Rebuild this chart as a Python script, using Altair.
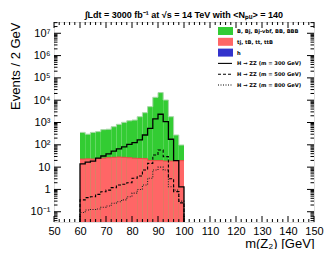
import altair as alt
import pandas as pd

# ---- data ----
bin_lo = list(range(60, 100, 2))
bin_w = 2
# stacked total (green top): B, Bj, Bj-vbf, BB, BBB on top of tj...
total_bkg = [360, 300, 360, 390, 480, 500, 650, 830, 1020, 1200,
             1290, 1820, 2750, 5130, 13500, 21900, 10200, 1820, 275, 98]
# tj, tB, tt, ttB (red)
top_bkg = [22.9, 23.4, 22.9, 24.0, 25.1, 26.3, 27.5, 28.2, 27.5, 26.3,
           25.1, 24.5, 24.0, 20.0, 19.5, 19.5, 18.6, 18.6, 19.5, 19.5]
# h (blue) - below the visible range
h_bkg = [0.01] * 20
# signals
sig300 = [14.1, 16.6, 18.6, 25.1, 31.6, 38.9, 52.5, 66.1, 81.3, 105,
          126, 166, 275, 550, 1450, 2340, 1100, 178, 19.5, 1.3]
sig500 = [0.34, 0.43, 0.47, 0.60, 0.79, 0.93, 1.20, 1.58, 1.70, 2.0,
          3.16, 3.98, 7.41, 14.8, 34.7, 58.9, 29.5, 3.0, 0.8, 0.25]
sig800 = [0.093, 0.12, 0.126, 0.132, 0.158, 0.182, 0.24, 0.28, 0.34, 0.47,
          0.68, 1.0, 1.58, 3.16, 7.4, 10.0, 7.4, 1.32, 0.93, 0.3]

x_ticks = list(range(50, 151, 10))
y_ticks = [0.1, 1, 10, 100, 1e3, 1e4, 1e5, 1e6, 1e7]
y_labels = ["10⁻¹", "1", "10", "10²", "10³", "10⁴", "10⁵", "10⁶", "10⁷"]

legend_labels = ["B, Bj, Bj-vbf, BB, BBB", "tj, tB, tt, ttB", "h",
                 "H → ZZ (m = 300 GeV)", "H → ZZ (m = 500 GeV)", "H → ZZ (m = 800 GeV)"]

YMIN, YMAX = 0.0347, 3.2e7
W, H = 260, 200
FONT = "Liberation Sans"
GREEN, RED, BLUE = "#33cc33", "#ff6666", "#3333cc"

xs = alt.Scale(domain=[50, 150], nice=False, zero=False)
ys = alt.Scale(type="log", domain=[YMIN, YMAX], nice=False)

hist = pd.DataFrame({"lo": bin_lo, "hi": [b + bin_w for b in bin_lo],
                     "total": total_bkg, "top": top_bkg, "h": h_bkg})

label_expr = " : ".join(
    f"datum.value == {v} ? '{l}'" for v, l in zip(y_ticks, y_labels)) + " : ''"

x_axis = alt.Axis(values=x_ticks, format="d", ticks=False, domain=False, grid=False,
                  labelFont=FONT, labelFontSize=11, labelColor="black", labelPadding=3,
                  labelFlush=False, labelOverlap=False, labelBound=False,
                  title="m(Z₂) [GeV]", titleFont=FONT, titleFontSize=13,
                  titleFontWeight="normal", titleColor="black", titleAnchor="end",
                  titlePadding=1)
y_axis = alt.Axis(values=y_ticks, labelExpr=label_expr, ticks=False, domain=False,
                  grid=False, labelFont=FONT, labelFontSize=11, labelColor="black",
                  labelPadding=4, labelFlush=False, labelOverlap=False,
                  title="Events / 2 GeV", titleFont=FONT, titleFontSize=13,
                  titleFontWeight="normal", titleColor="black", titleAnchor="end",
                  titlePadding=8)

base = alt.Chart(hist)
green = base.mark_rect(color=GREEN, clip=True).encode(
    x=alt.X("lo:Q", scale=xs, axis=x_axis), x2="hi:Q",
    y=alt.Y("total:Q", scale=ys, axis=y_axis), y2=alt.datum(YMIN))
red = base.mark_rect(color=RED, clip=True).encode(
    x=alt.X("lo:Q", scale=xs, axis=x_axis), x2="hi:Q",
    y=alt.Y("top:Q", scale=ys, axis=y_axis), y2=alt.datum(YMIN))
blue = base.mark_rect(color=BLUE, clip=True).encode(
    x=alt.X("lo:Q", scale=xs, axis=x_axis), x2="hi:Q",
    y=alt.Y("h:Q", scale=ys, axis=y_axis), y2=alt.datum(YMIN))


def step_df(vals, name, close=True):
    rows = []
    o = 0
    if close:
        rows.append({"x": bin_lo[0], "y": YMIN, "o": o, "s": name}); o += 1
    for lo, v in zip(bin_lo, vals):
        rows.append({"x": lo, "y": v, "o": o, "s": name}); o += 1
    rows.append({"x": bin_lo[-1] + bin_w, "y": vals[-1], "o": o, "s": name}); o += 1
    if close:
        rows.append({"x": bin_lo[-1] + bin_w, "y": YMIN, "o": o, "s": name})
    return pd.DataFrame(rows)


def step_line(vals, name, color, dash=None, width=1.2, close=True):
    kw = dict(interpolate="step-after", clip=True, color=color, strokeWidth=width)
    if dash:
        kw["strokeDash"] = dash
    return alt.Chart(step_df(vals, name, close)).mark_line(**kw).encode(
        x=alt.X("x:Q", scale=xs, axis=x_axis), y=alt.Y("y:Q", scale=ys, axis=y_axis),
        order="o:Q")


green_edge = step_line(total_bkg, "tot", "#a8d8a8", width=1, close=False)
red_edge = step_line(top_bkg, "top", "#f04848", width=1, close=False)
l300 = step_line(sig300, "300", "black", width=1.3)
l500 = step_line(sig500, "500", "black", dash=[3, 2], width=1.1)
l800 = step_line(sig800, "800", "#222222", dash=[1, 1.5], width=1.1)

# inward ticks on all four sides
x_minor = [v for v in range(50, 151, 2) if v % 10 != 0]
y_minor = []
for e in range(-2, 8):
    for k in range(2, 10):
        v = k * 10.0 ** e
        if YMIN < v < YMAX:
            y_minor.append(v)


def xtick(vals, y0, y1):
    return alt.Chart(pd.DataFrame({"v": vals})).mark_rule(color="black", strokeWidth=1).encode(
        x=alt.X("v:Q", scale=xs, axis=x_axis), y=alt.value(y0), y2=alt.value(y1))


def ytick(vals, x0, x1):
    return alt.Chart(pd.DataFrame({"v": vals})).mark_rule(color="black", strokeWidth=1).encode(
        y=alt.Y("v:Q", scale=ys, axis=y_axis), x=alt.value(x0), x2=alt.value(x1))


ticks = [xtick(x_ticks, H, H - 6), xtick(x_minor, H, H - 3),
         xtick(x_ticks, 0, 6), xtick(x_minor, 0, 3),
         ytick(y_ticks, 0, 7), ytick(y_minor, 0, 3.5),
         ytick(y_ticks, W, W - 7), ytick(y_minor, W, W - 3.5)]

main = alt.layer(green, red, blue, green_edge, red_edge, l800, l500, l300, *ticks)

# ---- legend ----
leg = pd.DataFrame({"label": legend_labels, "idx": list(range(len(legend_labels))),
                    "kind": ["g", "r", "b", "s", "d", "o"]})
ly = alt.Scale(domain=[0, 5], range=[9, 63])
lbase = alt.Chart(leg)
boxes = lbase.transform_filter("datum.idx < 3").transform_calculate(
    a="datum.idx - 0.37", b="datum.idx + 0.37").mark_rect().encode(
    x=alt.value(164), x2=alt.value(179),
    y=alt.Y("a:Q", scale=ly, axis=None), y2="b:Q",
    color=alt.Color("kind:N", scale=alt.Scale(domain=["g", "r", "b"], range=[GREEN, RED, BLUE]),
                    legend=None))
texts = lbase.mark_text(align="left", baseline="middle", font="DejaVu Sans", fontSize=5.2,
                        fontWeight="bold", color="black").encode(
    x=alt.value(183), y=alt.Y("idx:Q", scale=ly, axis=None), text="label:N")


def leg_rule(kind, dash=None):
    kw = dict(color="black", strokeWidth=1.1)
    if dash:
        kw["strokeDash"] = dash
    return lbase.transform_filter(f"datum.kind == '{kind}'").mark_rule(**kw).encode(
        x=alt.value(164), x2=alt.value(178), y=alt.Y("idx:Q", scale=ly, axis=None))


legend = alt.layer(boxes, texts, leg_rule("s"), leg_rule("d", [3, 2]), leg_rule("o", [1, 1.5]))

chart = alt.layer(main, legend).resolve_scale(y="independent", color="independent").properties(
    width=W, height=H,
    title=alt.TitleParams("∫Ldt = 3000 fb⁻¹ at √s = 14 TeV with <Nₚᵤ> = 140",
                          font=FONT, fontSize=9, fontWeight="bold", color="black",
                          anchor="middle", offset=2),
    autosize=alt.AutoSizeParams(type="none"),
    padding={"left": 46, "top": 14, "right": 10, "bottom": 27},
).configure_view(stroke="black", strokeWidth=1).configure(background="white"
).configure_axisX(labelOverlap=False).configure_axis(labelOverlap=False)

chart.save("out.html", embed_options={"renderer": "svg", "actions": False})
